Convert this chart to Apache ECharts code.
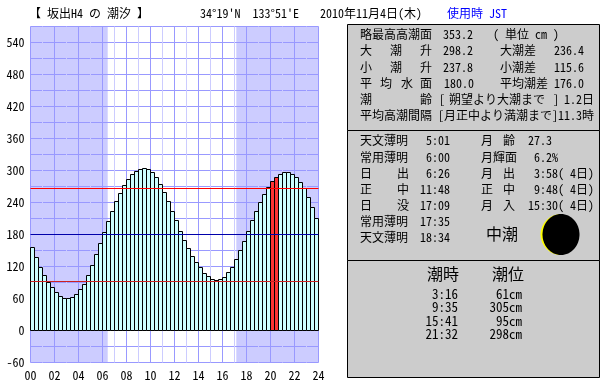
<!DOCTYPE html>
<html><head><meta charset="utf-8">
<style>html,body{margin:0;padding:0;background:#fff}#c{width:610px;height:385px}</style>
<script src="https://cdn.jsdelivr.net/npm/echarts@6/dist/echarts.min.js"></script>
</head><body><div id="c"></div>
<script>
const tideLevels = [157,138,119,104,91,81,72,65,61,61,62,68,77,88,104,123,143,164,185,205,224,243,258,273,284,294,299,303,305,303,298,288,275,260,243,224,207,187,170,155,140,128,119,108,102,96,95,96,100,110,119,134,151,168,186,207,224,241,256,269,280,288,294,297,297,294,288,278,267,250,231,211];
const highlightBars = [60,61];
const sunrise = 6.433, sunset = 17.15;
const dayEnd = 24;
const levelHighMean = 266.25, levelMean = 180, levelLowMean = 91.875;
const titleStation = "【 坂出H4 の 潮汐 】";
const titlePos = "34°19'N  133°51'E";
const titleDate = "2010年11月4日(木)";
const titleTz = "使用時 JST";
const panelA = [
 ["略最高高潮面","353.2","( 単位 cm )"],
 ["大","潮","升","298.2","大潮差","236.4"],
 ["小","潮","升","237.8","小潮差","115.6"],
 ["平","均","水","面","180.0","平均潮差","176.0"],
 ["潮","齢","[","朔望より大潮まで","]","1.2日"],
 ["平均高潮間隔","[月正中より満潮まで]11.3時"]
];
const panelB = [
 ["天文薄明","5:01","月","齢","27.3"],
 ["常用薄明","6:00","月輝面","6.2%"],
 ["日","出","6:26","月","出","3:58( 4日)"],
 ["正","中","11:48","正","中","9:48( 4日)"],
 ["日","没","17:09","月","入","15:30( 4日)"],
 ["常用薄明","17:35"],
 ["天文薄明","18:34"]
];
const tideName = "中潮";
const tideHeads = ["潮時","潮位"];
const tideTimes = ["3:16","9:35","15:41","21:32"];
const tideHeights = ["61cm","305cm","95cm","298cm"];

const xsA = [[360,443,493],[360,390,420,443,500,554],[360,390,420,443,500,554],[360,380,401,420,444,500,554],[360,420,439,449,553,564],[360,438]];
const ysA = [34,50.5,67,83,99,115];
const xsB = [[360,426,481,503,528],[360,426,481,534],[360,397,426,481,503,534],[360,397,420,481,503,534],[360,397,420,481,503,528],[360,420],[360,420]];
const ysB = [140,157,173,189,205,221,237];

const MONO = '"Noto Sans Mono CJK JP","Liberation Mono","Noto Sans CJK JP",monospace';
const txt = (s,x,y,size,extra) => ({type:'text',x,y,style:Object.assign({text:s,fontFamily:MONO,fontSize:size||12,fill:'#000',textVerticalAlign:'middle',textAlign:'left'},extra||{})});
const panel = (y,h) => ({type:'rect',shape:{x:347.5,y:y+.5,width:252,height:h},style:{fill:'#cccccc',stroke:'#000',lineWidth:1}});

const gfx = [panel(24,106),panel(130,130),panel(260,117)];
gfx.push(txt(titleStation,29,13),txt(titlePos,200,13),txt(titleDate,320,13),txt(titleTz,447,13,12,{fill:'#0000ff'}));
panelA.forEach((r,i)=>r.forEach((s,j)=>gfx.push(txt(s,xsA[i][j],ysA[i]))));
panelB.forEach((r,i)=>r.forEach((s,j)=>gfx.push(txt(s,xsB[i][j],ysB[i]))));
gfx.push(txt(tideName,486,234,16));
gfx.push(txt(tideHeads[0],427,274,16),txt(tideHeads[1],492,274,16));
tideTimes.forEach((s,i)=>gfx.push(txt(s,458,294+i*13.3,13,{textAlign:'right'})));
tideHeights.forEach((s,i)=>gfx.push(txt(s,522,294+i*13.3,13,{textAlign:'right'})));
gfx.push({type:'sector',shape:{cx:561,cy:234.5,r:20.5,r0:0,startAngle:Math.PI/2,endAngle:Math.PI*1.5},style:{fill:'#ffff00'}});
gfx.push({type:'ellipse',shape:{cx:561,cy:234.5,rx:18.5,ry:20.5},style:{fill:'#000'}});

const chart = echarts.init(document.getElementById('c'),null,{renderer:'canvas'});
const hLine = (v,color) => ({type:'line',xAxisIndex:0,z:4,silent:true,showSymbol:false,data:[[0,v],[dayEnd,v]],lineStyle:{color,width:1}});
chart.setOption({
 animation:false,
 backgroundColor:'#fff',
 grid:{left:30.5,top:26.5,width:288,height:336,containLabel:false},
 xAxis:[
  {type:'value',min:0,max:dayEnd,interval:1,z:2,
   axisLine:{show:false},axisTick:{show:false},
   axisLabel:{margin:7,color:'#000',fontFamily:MONO,fontSize:12,hideOverlap:false,showMinLabel:true,showMaxLabel:true,
     formatter:v=>v%2===0?String(v).padStart(2,'0'):''},
   splitLine:{show:true,lineStyle:{color:['#9999ff','#ccccff'],width:1}}},
  {type:'category',show:false,data:tideLevels.map((_,i)=>i),boundaryGap:true}
 ],
 yAxis:{type:'value',min:-60,max:570,interval:30,z:2,
   axisLine:{show:false},axisTick:{show:false},
   axisLabel:{margin:6,color:'#000',fontFamily:MONO,fontSize:12,showMinLabel:true,showMaxLabel:false,
     formatter:v=>v%60===0?String(v):''},
   splitLine:{show:true,lineStyle:{color:'#9999ff',width:1}}},
 series:[
  {type:'line',xAxisIndex:0,data:[[0,0]],showSymbol:false,silent:true,z:1,lineStyle:{width:0},
   markArea:{silent:true,z:1,itemStyle:{color:'#ccccff',opacity:1},
     data:[[{xAxis:0},{xAxis:sunrise}],[{xAxis:sunset},{xAxis:dayEnd}]]}},
  {type:'custom',xAxisIndex:1,z:3,silent:true,
   data:tideLevels.map((v,i)=>[i,v]),
   encode:{x:0,y:1},
   renderItem:(params,api)=>{
     const i=api.value(0);
     const top=api.coord([i,api.value(1)]);
     const base=api.coord([i,0]);
     const w=api.size([1,0])[0];
     const y=Math.round(top[1])+.5;
     return {type:'rect',shape:{x:top[0]-w/2,y,width:w,height:base[1]-y},
       style:{fill:highlightBars.includes(i)?'#ff3333':'#ccffff',stroke:'#000',lineWidth:1}};
   }},
  hLine(levelHighMean,'#ff0000'),
  hLine(levelMean,'#0000aa'),
  hLine(levelLowMean,'#cc2222')
 ],
 graphic:{elements:gfx}
});
</script></body></html>
